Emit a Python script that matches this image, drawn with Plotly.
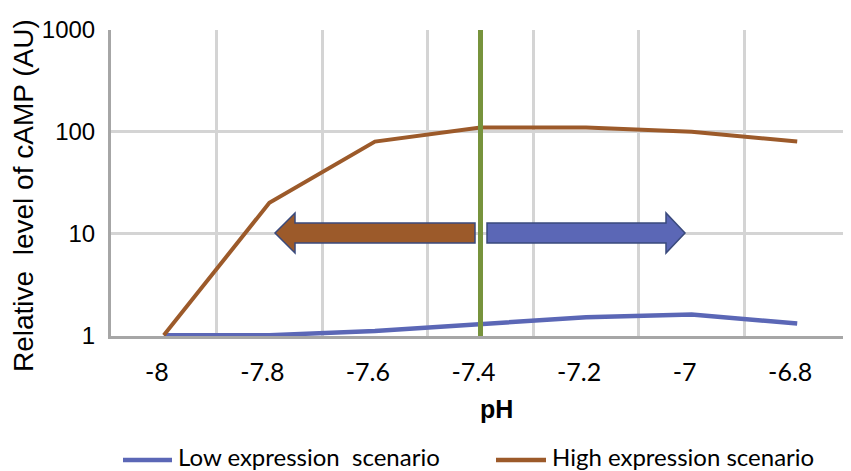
import plotly.graph_objects as go

# ---- data ----
ph = [-8.0, -7.8, -7.6, -7.4, -7.2, -7.0, -6.8]
ph_labels = ["-8", "-7.8", "-7.6", "-7.4", "-7.2", "-7", "-6.8"]
low_expr = [1.0, 1.0, 1.1, 1.3, 1.5, 1.6, 1.3]
high_expr = [1.0, 20, 80, 110, 110, 100, 80]
y_ticks = [1, 10, 100, 1000]
y_labels = ["1", "10", "100", "1000"]
marker_ph = -7.4

OFF = 8  # page body margin
WIN_W, WIN_H = 851, 471
W, H = WIN_W - OFF, WIN_H - OFF
# plot area in window pixels
PL, PR, PT, PB = 111, 850, 30, 336
L, T = PL - OFF, PT - OFF
R, B = WIN_W - PR, WIN_H - PB
PW, PH = PR - PL, PB - PT

def px(xp):
    return (xp - PL) / PW

def py(yp):
    return (PB - yp) / PH

BLUE = "#5b67b6"
ORANGE = "#9c5a2a"
GREEN = "#77933c"
OUTLINE = "#3a4a7c"

fig = go.Figure()
fig.add_trace(go.Scatter(x=ph, y=low_expr, mode="lines", name="Low expression  scenario",
                         line=dict(color=BLUE, width=4.5), showlegend=False))
fig.add_trace(go.Scatter(x=ph, y=high_expr, mode="lines", name="High expression scenario",
                         line=dict(color=ORANGE, width=4), showlegend=False))

# vertical green marker line
fig.add_shape(type="line", xref="x", yref="paper", x0=marker_ph, x1=marker_ph, y0=0, y1=1,
              line=dict(color=GREEN, width=5), layer="above")

def arrow_path(pts):
    return "M " + " L ".join(f"{px(a):.5f},{py(b):.5f}" for a, b in pts) + " Z"

# left (orange) arrow
left_pts = [(275, 233), (295, 213), (295, 223), (475, 223), (475, 243), (295, 243), (295, 253)]
fig.add_shape(type="path", xref="paper", yref="paper", path=arrow_path(left_pts),
              fillcolor=ORANGE, line=dict(color=OUTLINE, width=1.5), layer="above")
# right (blue) arrow
right_pts = [(685, 233), (666, 213), (666, 223), (487, 223), (487, 243), (666, 243), (666, 253)]
fig.add_shape(type="path", xref="paper", yref="paper", path=arrow_path(right_pts),
              fillcolor=BLUE, line=dict(color=OUTLINE, width=1.5), layer="above")

# manual legend
leg_line_y = 460
leg_text_y = 456
for (x0, x1, tx, col, name) in [(123, 172, 176, BLUE, "Low expression\u00a0 scenario"),
                                (496, 546, 550, ORANGE, "High expression scenario")]:
    fig.add_shape(type="line", xref="paper", yref="paper", x0=px(x0), x1=px(x1),
                  y0=py(leg_line_y), y1=py(leg_line_y), line=dict(color=col, width=4.5))
    fig.add_annotation(xref="paper", yref="paper", x=px(tx), y=py(leg_text_y), text=name,
                       showarrow=False, xanchor="left", yanchor="middle",
                       font=dict(family="Lato", size=24, color="#000000"))

# axis titles
fig.add_annotation(xref="paper", yref="paper", x=px(496), y=py(409), text="<b>pH</b>",
                   showarrow=False, xanchor="center", yanchor="middle",
                   font=dict(family="Liberation Sans", size=25, color="#000000"))
fig.add_annotation(xref="paper", yref="paper", x=px(23), y=py(196),
                   text="Relative\u00a0 level of cAMP (AU)", textangle=-90,
                   showarrow=False, xanchor="center", yanchor="middle",
                   font=dict(family="Liberation Sans", size=28, color="#000000"))

fig.update_layout(
    width=W, height=H,
    margin=dict(l=L, r=R, t=T, b=B, pad=0),
    paper_bgcolor="white", plot_bgcolor="white",
    showlegend=False,
)
fig.update_xaxes(
    type="linear", range=[-8.1, -6.7],
    tickmode="array", tickvals=ph, ticktext=ph_labels,
    ticks="", showgrid=False,
    minor=dict(tick0=-8.1, dtick=0.2, showgrid=True, gridcolor="#d4d4d4", gridwidth=3, ticks=""),
    showline=True, linecolor="#a6a6a6", linewidth=3,
    tickfont=dict(family="Lato", size=25, color="#000000"),
    ticklabelstandoff=12, ticklabelshift=-7,
    zeroline=False, layer="below traces",
)
fig.update_yaxes(
    type="log", range=[-0.008, 3.0],
    tickmode="array", tickvals=y_ticks, ticktext=y_labels,
    ticks="", showgrid=True, gridcolor="#d4d4d4", gridwidth=3,
    showline=True, linecolor="#a6a6a6", linewidth=3,
    tickfont=dict(family="Liberation Sans", size=24, color="#000000"),
    ticklabelstandoff=8, zeroline=False, layer="below traces",
)

fig.write_html("out.html")
